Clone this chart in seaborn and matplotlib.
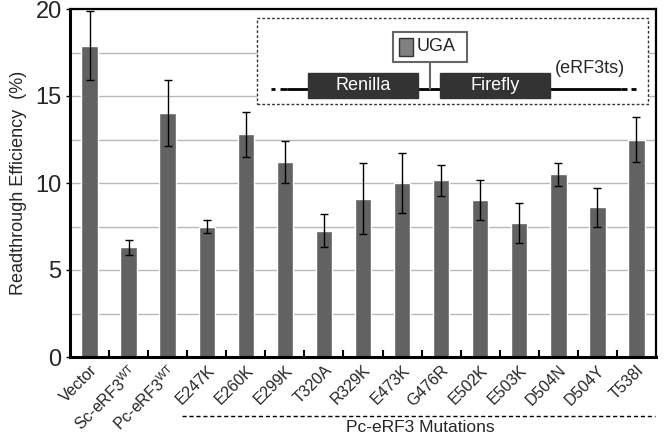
import numpy as np
import pandas as pd
import matplotlib
matplotlib.use("Agg")
import matplotlib.pyplot as plt
from matplotlib.patches import Rectangle
import seaborn as sns

# ========== Data ==========
labels = ["Vector", "Sc-eRF3$^{\\mathrm{WT}}$", "Pc-eRF3$^{\\mathrm{WT}}$", "E247K", "E260K",
          "E299K", "T320A", "R329K", "E473K", "G476R", "E502K", "E503K", "D504N",
          "D504Y", "T538I"]
efficiency = [17.9, 6.3, 14.0, 7.5, 12.8, 11.2, 7.25, 9.1, 10.0, 10.15, 9.0, 7.7, 10.5, 8.6, 12.5]
errors = [2.0, 0.45, 1.9, 0.35, 1.3, 1.2, 0.95, 2.05, 1.7, 0.9, 1.15, 1.15, 0.65, 1.1, 1.3]

df = pd.DataFrame({"label": labels, "eff": efficiency, "err": errors})

# ========== Plot ==========
sns.set_style("white")
plt.rcParams["font.family"] = ["Liberation Sans", "DejaVu Sans"]
plt.rcParams["mathtext.fontset"] = "custom"
plt.rcParams["mathtext.rm"] = "Liberation Sans"

fig = plt.figure(figsize=(6.64, 4.34), dpi=100)
ax = fig.add_axes([70 / 664, 1 - 357 / 434, 586 / 664, 348 / 434])

sns.barplot(data=df, x="label", y="eff", color="#626262", saturation=1,
            width=0.42, errorbar=None, ax=ax, zorder=2)
ax.errorbar(np.arange(len(df)), df["eff"], yerr=df["err"], fmt="none",
            ecolor="black", elinewidth=1, capsize=3, capthick=1, zorder=3)

ax.set_xlim(-0.5, len(df) - 0.5)
ax.set_ylim(0, 20)
ax.set_yticks([0, 5, 10, 15, 20])
ax.set_yticks(np.arange(2.5, 20, 2.5), minor=True)
ax.yaxis.grid(True, which="both", color="#b8b8b8", lw=1, zorder=0)
ax.set_axisbelow(True)

ax.set_xlabel("")
ax.set_ylabel("Readthrough Efficiency  (%)", fontsize=13, labelpad=6)
ax.tick_params(axis="y", which="major", left=True, labelsize=17, length=3, width=1,
               direction="out", pad=3, color="black")
ax.tick_params(axis="y", which="minor", left=False, length=0)
ax.set_xticks(np.arange(len(df)))
ax.set_xticklabels(labels, rotation=45, ha="right", rotation_mode="anchor", fontsize=11.5)
ax.set_xticks(np.arange(0.5, len(df) - 1, 1), minor=True)
ax.tick_params(axis="x", which="major", bottom=False, length=0, pad=4)
ax.tick_params(axis="x", which="minor", bottom=True, length=5, width=1.5,
               direction="in", color="black")

for side in ["left", "bottom"]:
    ax.spines[side].set_linewidth(2.2)
    ax.spines[side].set_color("black")
for side in ["top", "right"]:
    ax.spines[side].set_linewidth(1.6)
    ax.spines[side].set_color("black")

# ========== Mutation group marker ==========
fig.add_artist(plt.Line2D([182 / 664, 655 / 664], [1 - 416 / 434] * 2, color="black",
                          lw=1, ls=(0, (3, 2))))
fig.text(420 / 664, 1 - 427 / 434, "Pc-eRF3 Mutations", ha="center", va="center", fontsize=12.5)

# ========== Inset construct diagram ==========
T = ax.transAxes
ax.add_patch(Rectangle((0.319, 0.727), 0.667, 0.247, transform=T, facecolor="white",
                       edgecolor="#333333", lw=1, ls=(0, (2, 1.5)), zorder=5))
ax.plot([0.372, 0.939], [0.770, 0.770], transform=T, color="black", lw=2, zorder=6)
for xa, xb in [(0.343, 0.350), (0.358, 0.370), (0.941, 0.950), (0.958, 0.966)]:
    ax.plot([xa, xb], [0.770, 0.770], transform=T, color="black", lw=2,
            solid_capstyle="butt", zorder=6)
ax.plot([0.614, 0.614], [0.770, 0.848], transform=T, color="#666666", lw=1.5, zorder=6)
for x0, name in [(0.406, "Renilla"), (0.631, "Firefly")]:
    ax.add_patch(Rectangle((x0, 0.744), 0.188, 0.072, transform=T, facecolor="#333333",
                           edgecolor="#333333", zorder=7))
    ax.text(x0 + 0.094, 0.780, name, transform=T, ha="center", va="center",
            color="white", fontsize=13, zorder=8)
ax.add_patch(Rectangle((0.551, 0.848), 0.126, 0.086, transform=T, facecolor="white",
                       edgecolor="#666666", lw=1.5, zorder=7))
ax.add_patch(Rectangle((0.562, 0.866), 0.024, 0.052, transform=T, facecolor="#808080",
                       edgecolor="#333333", lw=1, zorder=8))
ax.text(0.592, 0.891, "UGA", transform=T, ha="left", va="center", fontsize=13, zorder=8)
ax.text(0.887, 0.828, "(eRF3ts)", transform=T, ha="center", va="center", fontsize=13, zorder=8)

fig.savefig("out.png", dpi=100)
